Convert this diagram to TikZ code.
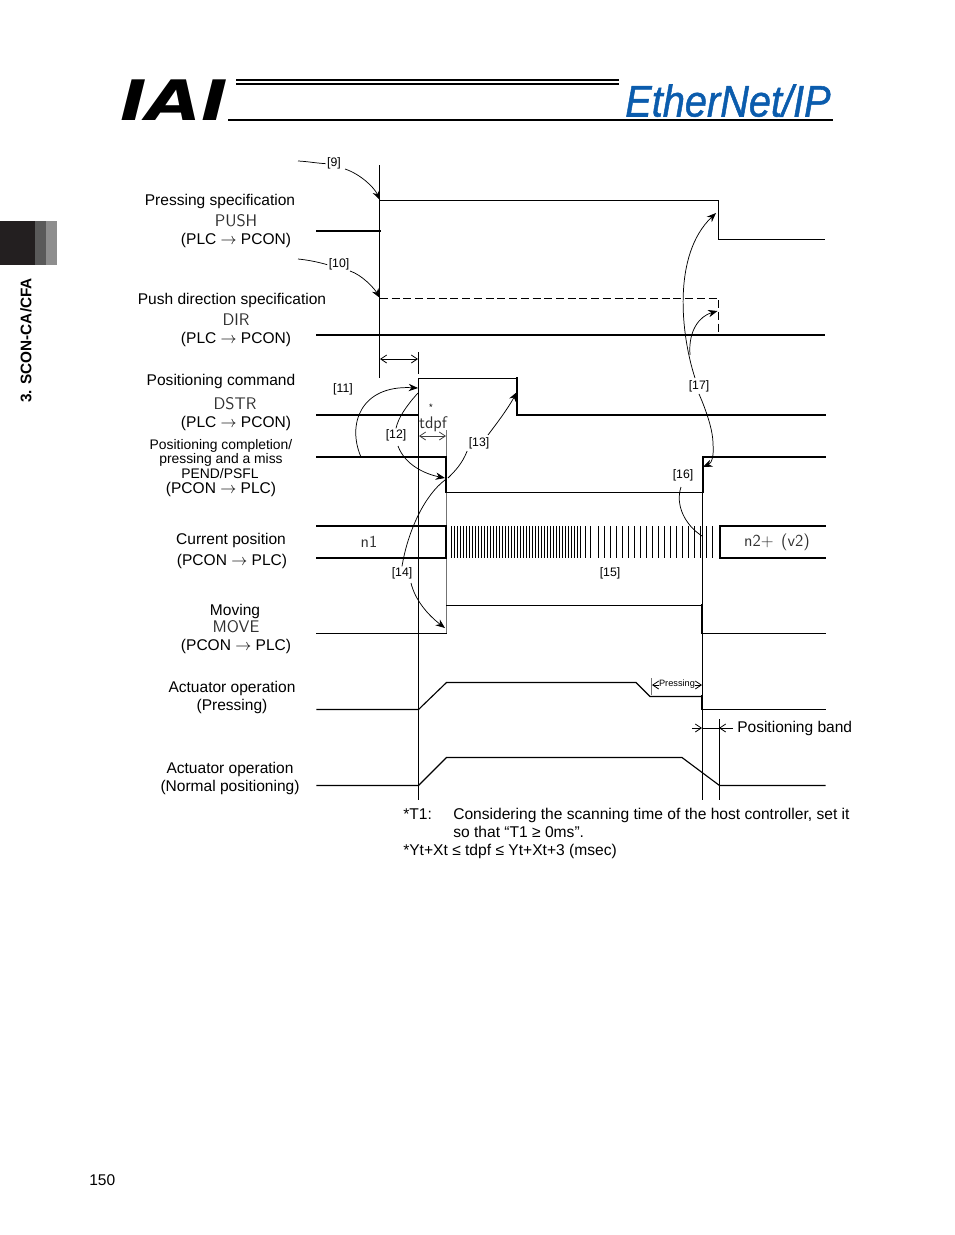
\documentclass[tikz,border=0pt]{standalone}
\usepackage{fontspec}
\setmainfont{Liberation Sans}
\newfontfamily\logofont{DejaVu Sans}
\newfontfamily\etherfont{Liberation Sans}[ItalicFeatures={FakeBold=1.2}]
\usetikzlibrary{arrows.meta,positioning}
\definecolor{tabblack}{HTML}{231F20}
\definecolor{tabdark}{HTML}{5A5A5A}
\definecolor{tabgray}{HTML}{8E8E8E}
\definecolor{logoblue}{HTML}{0B5CAD}
\definecolor{thintext}{HTML}{303030}
\tikzset{
  sigtext/.style={font=\fontsize{11.65}{13}\selectfont, inner sep=0pt, yshift=-0.8pt},
  smalltext/.style={font=\fontsize{10.4}{12}\selectfont, inner sep=0pt, yshift=-0.5pt},
  nametext/.style={font=\fontsize{12.6}{14}\sffamily\selectfont, text=thintext, inner sep=0pt},
  reftext/.style={font=\fontsize{9.2}{11}\selectfont, inner sep=1pt, yshift=-0.5pt},
  notetext/.style={font=\fontsize{11.7}{13}\selectfont, inner sep=0pt, anchor=base west},
  wave/.style={line width=1.7pt, line cap=rect},
  wavethin/.style={line width=0.85pt, line cap=rect},
  cursor/.style={line width=0.8pt},
  hatch/.style={line width=0.85pt},
  leader/.style={line width=0.55pt},
  leadertip/.style={line width=0.55pt, -{Stealth[length=7pt,width=5.5pt]}},
  span/.style={line width=0.6pt, {Straight Barb[length=4.5pt,width=6pt]}-{Straight Barb[length=4.5pt,width=6pt]}},
  spanend/.style={line width=0.6pt, -{Straight Barb[length=4.5pt,width=6pt]}}
}
\begin{document}
\begin{tikzpicture}[x=0.75pt,y=-0.75pt]
  \useasboundingbox (0,0) rectangle (954,1235);

  % page head
  \node[anchor=south west, inner sep=0pt] (logo) at (120,121) {\resizebox{81pt}{30.5pt}{\logofont\bfseries\itshape IAI}};
  \node[anchor=base west, inner sep=0pt, text=logoblue] (ether) at (625,116.5) {\resizebox{154pt}{24pt}{\fontsize{33}{33}\etherfont\itshape EtherNet/IP}};
  \draw[line width=1.6pt] (236,80) -- (619,80);
  \draw[line width=0.8pt] (236,84) -- (619,84);
  \draw[line width=1.5pt] (228,119.5) -- (833,119.5);

  % side tab
  \fill[tabblack] (0,221) rectangle (35,265);
  \fill[tabdark] (35,221) rectangle (46,265);
  \fill[tabgray] (46,221) rectangle (57,265);
  \node[rotate=90, font=\fontsize{11.5}{13}\bfseries\selectfont, inner sep=0pt] (chapter) at (26,340.5) {3. SCON-CA/CFA};
  \node[sigtext, anchor=base west, yshift=0.8pt] (page) at (89,1185) {150};

  % signal names
  \node[sigtext] (push1) at (220,200) {Pressing specification};
  \node[nametext] (push2) at (236,221) {PUSH};
  \node[sigtext] (push3) at (236,239) {(PLC $\rightarrow$ PCON)};
  \node[sigtext] (dir1) at (232,299) {Push direction specification};
  \node[nametext] (dir2) at (236,320) {DIR};
  \node[sigtext] (dir3) at (236,338) {(PLC $\rightarrow$ PCON)};
  \node[sigtext] (dstr1) at (221,380) {Positioning command};
  \node[nametext] (dstr2) at (235,404) {DSTR};
  \node[sigtext] (dstr3) at (236,422) {(PLC $\rightarrow$ PCON)};
  \node[smalltext] (pend1) at (221,445) {Positioning completion/};
  \node[smalltext] (pend2) at (221,459) {pressing and a miss};
  \node[smalltext] (pend3) at (220,473) {PEND/PSFL};
  \node[sigtext] (pend4) at (221,488.5) {(PCON $\rightarrow$ PLC)};
  \node[sigtext] (cur1) at (231,539) {Current position};
  \node[sigtext] (cur2) at (232,560) {(PCON $\rightarrow$ PLC)};
  \node[sigtext] (move1) at (235,610) {Moving};
  \node[nametext] (move2) at (236,627) {MOVE};
  \node[sigtext] (move3) at (236,645) {(PCON $\rightarrow$ PLC)};
  \node[sigtext] (act1) at (232,687) {Actuator operation};
  \node[sigtext] (act2) at (232,705) {(Pressing)};
  \node[sigtext] (norm1) at (230,768) {Actuator operation};
  \node[sigtext] (norm2) at (230,786) {(Normal positioning)};

  % cursors
  \draw[cursor] (379.5,165) -- (379.5,378);
  \draw[cursor] (418.5,352) -- (418.5,374);
  \draw[cursor] (418.5,378) -- (418.5,800);
  \draw[cursor] (702.5,457) -- (702.5,800);
  \draw[cursor] (719.5,719) -- (719.5,800);
  \draw[cursor, black!55] (446.5,430) -- (446.5,633);
  \draw[span] (380,359) -- (418,359);

  % waveforms
  \draw[wave] (317,231) -- (380,231);
  \draw[wavethin] (380,200.5) -- (718.5,200.5) -- (718.5,239.5) -- (824,239.5);
  \draw[wave] (317,335) -- (824,335);
  \draw[line width=0.8pt, dash pattern=on 6pt off 2.8pt] (380,298.5) -- (718.5,298.5) -- (718.5,335);
  \draw[wave] (317,415) -- (418,415);
  \draw[wavethin] (418.5,415) -- (418.5,378.5) -- (517,378.5);
  \draw[wave] (517,378.5) -- (517,415) -- (825,415);
  \draw[wave] (317,457) -- (446,457) -- (446,492);
  \draw[wavethin] (446,492.5) -- (703,492.5);
  \draw[wave] (703,492) -- (703,457) -- (825,457);
  \draw[wave] (317,526) -- (446,526) -- (446,558) -- (317,558);
  \draw[wave] (825,526) -- (720,526) -- (720,558) -- (825,558);
  \foreach \x in {451,454,...,582} {
    \draw[hatch] (\x.5,526) -- (\x.5,558);
  }
  \foreach \x in {585,590,598,604,...,714} {
    \draw[hatch] (\x.5,526) -- (\x.5,558);
  }
  \draw[wavethin] (317,633.5) -- (446.5,633.5);
  \draw[wavethin] (446.5,605.5) -- (702,605.5);
  \draw[wave] (702,605.5) -- (702,633);
  \draw[wavethin] (702,633.5) -- (825,633.5);
  \draw[wavethin] (317,709.5) -- (418.5,709.5) -- (446.5,682.5) -- (636,682.5) -- (650,696.5) -- (702,696.5);
  \draw[wave] (702,696.5) -- (702,709);
  \draw[wavethin] (702,709.5) -- (825,709.5);
  \draw[cursor, black!55] (651.5,678) -- (651.5,695);
  \draw[wavethin] (317,785.5) -- (418.5,785.5) -- (446.5,757.5) -- (682,757.5) -- (719.5,785.5) -- (825,785.5);

  % values on the signals
  \node[nametext] (posn1) at (369,542) {n1};
  \node[nametext] (posn2) at (777,542) {n2+\hspace{0.45em}(v2)};
  \node[font=\fontsize{7}{8}\selectfont, inner sep=0pt] (star) at (431,407) {*};
  \node[nametext] (tdpf) at (433,424) {tdpf};
  \draw[span, black!75] (419,436) -- (446,436);

  % references
  \node[reftext] (r9) at (334,163) {[9]};
  \node[reftext] (r10) at (339,264) {[10]};
  \node[reftext] (r11) at (343,389) {[11]};
  \node[reftext] (r12) at (396,435) {[12]};
  \node[reftext] (r13) at (479,443) {[13]};
  \node[reftext] (r14) at (402,573) {[14]};
  \node[reftext] (r15) at (610,573) {[15]};
  \node[reftext] (r16) at (683,475) {[16]};
  \node[reftext] (r17) at (699,386) {[17]};

  \coordinate (from9) at (298,161);
  \coordinate (from10) at (298,259);
  \coordinate (to9) at (380,200);
  \coordinate (to10) at (380,298);
  \coordinate (to11) at (418,388);
  \coordinate (to12) at (445,478);
  \coordinate (to13) at (517,392);
  \coordinate (to14) at (445,628);
  \coordinate (to16) at (703,467);
  \coordinate (to17a) at (716,213);
  \coordinate (to17b) at (717.5,311);

  \draw[leader] (from9) .. controls (308,161.5) and (315,163) .. (r9.west);
  \draw[leadertip] (345,169) .. controls (360,174) and (374,187) .. (to9);
  \draw[leader] (from10) .. controls (308,260) and (318,262) .. (r10.west);
  \draw[leadertip] (350,271) .. controls (362,275) and (374,288) .. (to10);
  \draw[leadertip] (361,457) .. controls (347,425) and (360,385) .. (to11);
  \draw[leader] (418,393) .. controls (407,405) and (398,418) .. (r12.north);
  \draw[leadertip] (398,446) .. controls (405,465) and (425,474) .. (to12);
  \draw[leadertip] (488,435) .. controls (497,423) and (507,410) .. (to13);
  \draw[leader] (r13.south west) .. controls (462,464) and (455,471) .. (448,478);
  \draw[leader] (445,480) .. controls (425,495) and (408,530) .. (r14.north);
  \draw[leadertip] (411,583) .. controls (415,600) and (428,615) .. (to14);
  \draw[leader] (r17.south) .. controls (706,410) and (713,430) .. (713,444);
  \draw[leadertip] (713,444) .. controls (714,455) and (712,463) .. (to16);
  \draw[leader] (681,487) .. controls (675,505) and (685,525) .. (702,536);
  \draw[leadertip] (695,378) .. controls (681,335) and (672,255) .. (to17a);
  \draw[leadertip] (690,355) .. controls (688,330) and (700,316) .. (to17b);

  % pressing and band
  \draw[span] (652,685) -- (702,685);
  \node[font=\fontsize{6.9}{8}\selectfont, inner sep=0pt, fill=white] (press) at (677,684) {Pressing};
  \coordinate (band0) at (692,728);
  \coordinate (band1) at (702,728);
  \coordinate (band2) at (719,728);
  \coordinate (band3) at (733,728);
  \draw[spanend] (band0) -- (band1);
  \draw[line width=0.6pt] (band1) -- (band2);
  \draw[spanend] (band3) -- (band2);
  \node[sigtext, anchor=base west, yshift=0.8pt] (band) at (737,732) {Positioning band};

  % notes
  \node[notetext] (note1) at (403,819) {*T1:};
  \node[notetext] (note2) at (453,819) {Considering the scanning time of the host controller, set it};
  \node[notetext] (note3) at (453,837) {so that “T1 ≥ 0ms”.};
  \node[notetext] (note4) at (403,855) {*Yt+Xt ≤ tdpf ≤ Yt+Xt+3 (msec)};
\end{tikzpicture}
\end{document}
